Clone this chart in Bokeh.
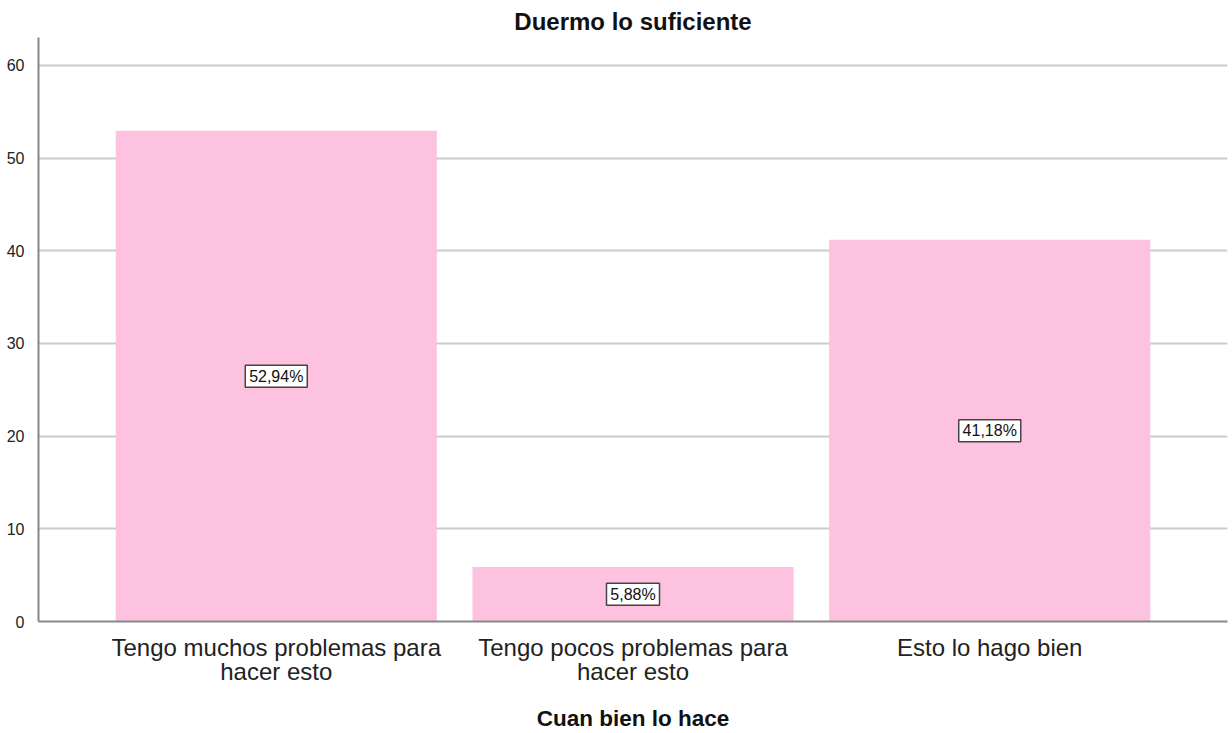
from bokeh.plotting import figure
from bokeh.models import ColumnDataSource, FactorRange, FixedTicker
from bokeh.core.properties import value
from bokeh.embed import file_html
from bokeh.resources import INLINE

categories = ["Tengo muchos problemas para\nhacer esto", "Tengo pocos problemas para\nhacer esto", "Esto lo hago bien"]
values = [52.94, 5.88, 41.18]
labels = ["52,94%", "5,88%", "41,18%"]
y_ticks = [0, 10, 20, 30, 40, 50, 60]

FONT = "Liberation Sans"

src = ColumnDataSource(dict(
    cat=categories,
    val=values,
    mid=[v / 2 for v in values],
    lab=labels,
    boxw=[len(t) * 9 + 8 for t in labels],
))

p = figure(
    width=1232, height=733,
    x_range=FactorRange(factors=categories, range_padding=0.111),
    y_range=(0, 63.0),
    output_backend="svg", toolbar_location=None,
    title="Duermo lo suficiente",
    min_border_left=38, min_border_right=5, min_border_top=37, min_border_bottom=111,
)

p.vbar(x="cat", top="val", width=0.9, source=src, fill_color="#fcc2e0", line_color=None)

p.rect(x="cat", y="mid", width="boxw", height=22, width_units="screen", height_units="screen",
       source=src, fill_color="white", line_color="#444444", line_width=1.5)
p.text(x="cat", y="mid", text="lab", source=src, text_align="center", text_baseline="middle",
       text_font=value(FONT), text_font_size=value("16px"), text_color="#111111")

p.title.align = "center"
p.title.text_font = FONT
p.title.text_font_size = "24px"
p.title.text_font_style = "bold"
p.title.text_color = "#111111"
p.title.standoff = 6

p.outline_line_color = None
p.xgrid.grid_line_color = None
p.ygrid.grid_line_color = "#cccccc"
p.ygrid.grid_line_width = 2
p.yaxis.ticker = FixedTicker(ticks=y_ticks)

for ax in (p.xaxis[0], p.yaxis[0]):
    ax.axis_line_color = "#888888"
    ax.axis_line_width = 2
    ax.major_tick_line_color = None
    ax.minor_tick_line_color = None
    ax.major_label_text_font = FONT
    ax.major_label_text_color = "#222222"

p.yaxis.major_label_text_font_size = "16px"
p.yaxis.major_label_standoff = 8
p.xaxis.major_label_text_font_size = "24px"
p.xaxis.major_label_text_line_height = 0.9
p.xaxis.major_label_standoff = 6
p.xaxis.axis_label = "Cuan bien lo hace"
p.xaxis.axis_label_text_font = FONT
p.xaxis.axis_label_text_font_size = "22.5px"
p.xaxis.axis_label_text_font_style = "bold"
p.xaxis.axis_label_text_color = "#111111"
p.xaxis.axis_label_standoff = 18

open("out.html", "w").write(file_html(p, INLINE))
